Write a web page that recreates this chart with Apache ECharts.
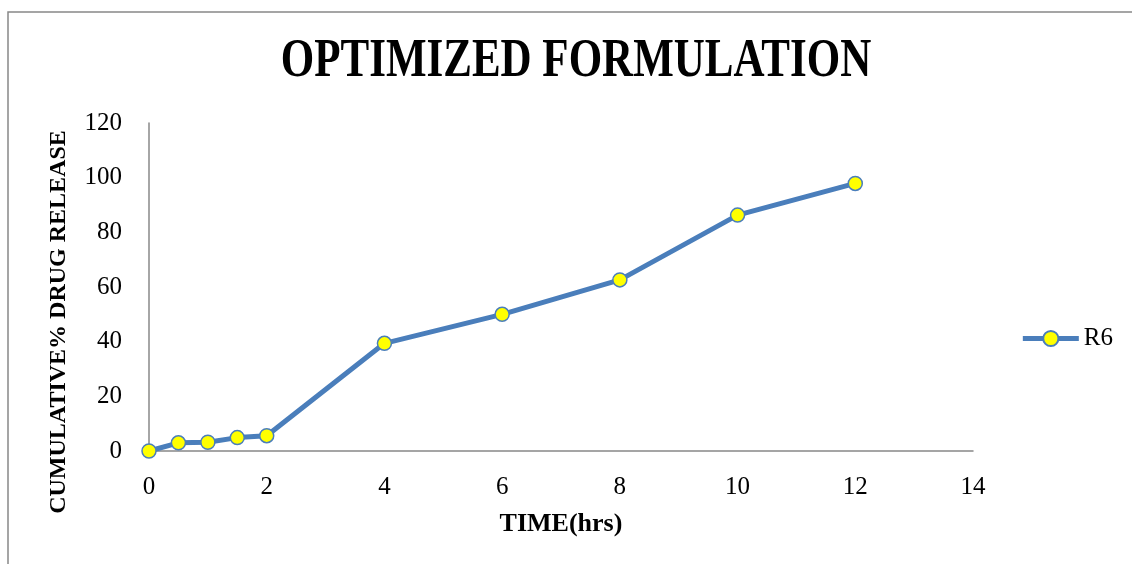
<!DOCTYPE html>
<html>
<head>
<meta charset="utf-8">
<script src="https://cdn.jsdelivr.net/npm/echarts@6/dist/echarts.min.js"></script>
<style>
  html, body { margin: 0; padding: 0; background: #fff; }
  #chart { width: 1132px; height: 564px; }
</style>
</head>
<body>
<div id="chart"></div>
<script>
// data
var timeHrs = [0, 0.5, 1, 1.5, 2, 4, 6, 8, 10, 12];
var releaseR6 = [0, 3.0, 3.2, 4.9, 5.6, 39.4, 50.0, 62.6, 86.3, 97.9];
var seriesName = 'R6';
var chartTitle = 'OPTIMIZED FORMULATION';

var serif = '"Liberation Serif", "DejaVu Serif", serif';
var myChart = echarts.init(document.getElementById('chart'));

var points = timeHrs.map(function (t, i) { return [t, releaseR6[i]]; });

var option = {
    backgroundColor: '#fff',
    animation: false,
    graphic: [
        {
            // outer chart frame (only top and left edges show)
            type: 'rect',
            shape: { x: 8, y: 12, width: 1300, height: 700 },
            style: { fill: 'none', stroke: '#888', lineWidth: 1.5 },
            silent: true
        },
        {
            // title, stretched a bit to look like the condensed original
            type: 'text',
            x: 576,
            y: 62,
            scaleY: 1.3,
            style: {
                text: chartTitle,
                font: 'bold 43px ' + serif,
                fill: '#000',
                align: 'center',
                verticalAlign: 'middle'
            },
            silent: true
        }
    ],
    grid: {
        left: 149,
        right: 159,
        top: 123,
        bottom: 113
    },
    legend: {
        data: [seriesName],
        right: 14,
        top: 321,
        itemWidth: 56,
        itemHeight: 19,
        itemGap: 4,
        lineStyle: { width: 5 },
        textStyle: { fontFamily: serif, fontSize: 25, color: '#000' }
    },
    xAxis: {
        type: 'value',
        min: 0,
        max: 14,
        interval: 2,
        name: 'TIME(hrs)',
        nameLocation: 'middle',
        nameGap: 60,
        nameTextStyle: { fontFamily: serif, fontSize: 26, fontWeight: 'bold', color: '#000' },
        axisLine: { lineStyle: { color: '#888', width: 1.5 } },
        axisTick: { show: false },
        splitLine: { show: false },
        axisLabel: { fontFamily: serif, fontSize: 25, color: '#000', margin: 24 }
    },
    yAxis: {
        type: 'value',
        min: 0,
        max: 120,
        interval: 20,
        name: 'CUMULATIVE% DRUG RELEASE',
        nameLocation: 'middle',
        nameGap: 78,
        nameTextStyle: {
            fontFamily: serif, fontSize: 24, fontWeight: 'bold', color: '#000',
            padding: [0, 70, 0, 0]
        },
        axisLine: { show: true, lineStyle: { color: '#888', width: 1.5 } },
        axisTick: { show: false },
        splitLine: { show: false },
        axisLabel: { fontFamily: serif, fontSize: 25, color: '#000', margin: 27 }
    },
    series: [
        {
            name: seriesName,
            type: 'line',
            data: points,
            symbol: 'circle',
            symbolSize: 14,
            lineStyle: { color: '#4a7ebb', width: 5 },
            itemStyle: { color: '#ffff00', borderColor: '#4a7ebb', borderWidth: 1.5 }
        }
    ]
};
myChart.setOption(option);
</script>
</body>
</html>
